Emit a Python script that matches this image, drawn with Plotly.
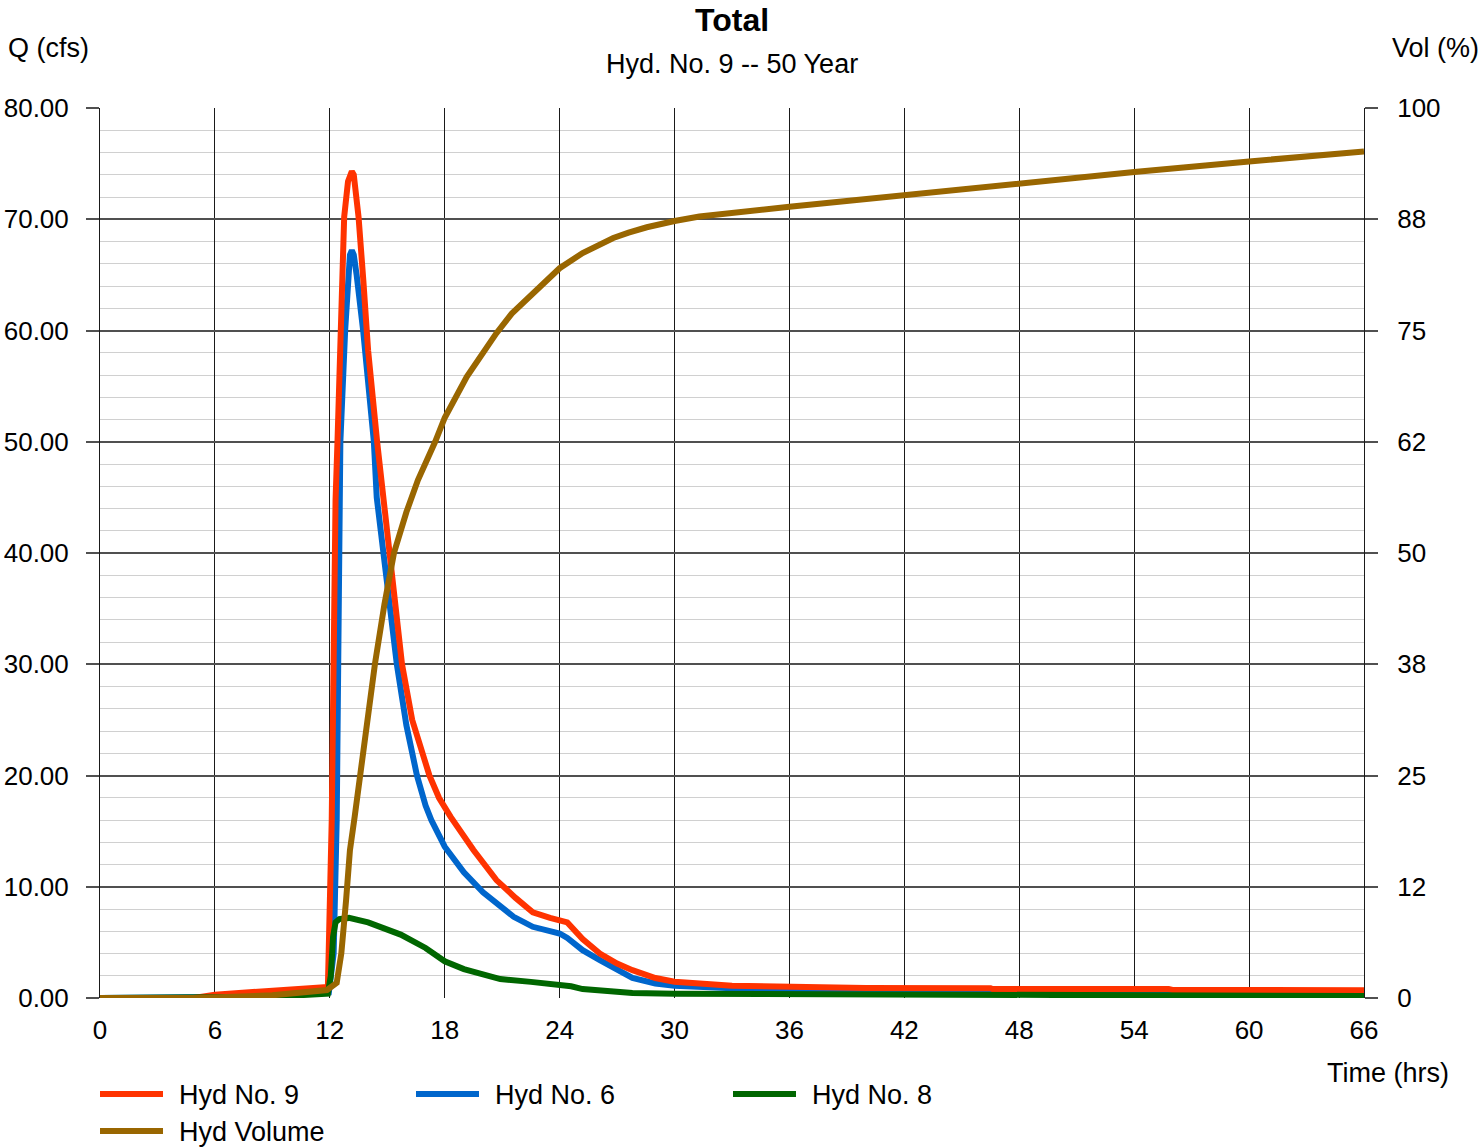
import plotly.graph_objects as go

# ---- data ----
t_hyd9 = [0, 4.9, 6, 9, 11.9, 12.1, 12.2, 12.3, 12.4, 12.53, 12.75, 12.95, 13.05, 13.15, 13.25, 13.5, 13.75,
          14.0, 14.47, 14.8, 15.15, 15.77, 16.3, 16.8, 17.2, 17.7, 18.3, 19.5, 20.7, 21.7, 22.6, 23.5, 24.0,
          24.4, 25.2, 26.1, 27.0, 27.8, 29.0, 30, 33, 36, 40, 46.5, 46.6, 55.8, 56, 66]
q_hyd9 = [0, 0, 0.3, 0.6, 1.0, 16, 32, 44.8, 50, 58.2, 70.2, 73.4, 74.1, 74.3, 74.0, 70.2, 64.5,
          58.2, 50, 44.8, 40, 30, 25, 22, 20, 18, 16.3, 13.3, 10.6, 9.0, 7.7, 7.2, 7.0,
          6.8, 5.3, 4.0, 3.1, 2.5, 1.8, 1.47, 1.1, 0.96, 0.9, 0.87, 0.8, 0.8, 0.72, 0.7]

t_hyd6 = [0, 6, 11.95, 12.2, 12.36, 12.48, 12.55, 12.8, 12.93, 13.05, 13.15, 13.25, 13.4, 13.74, 14.3, 14.45,
          14.8, 15.5, 16.0, 16.55, 17.0, 17.3, 18.0, 19.0, 20.0, 20.7, 21.6, 22.6, 23.5, 24.0,
          24.4, 25.2, 26.1, 27.0, 27.8, 29, 30, 33, 36, 66]
q_hyd6 = [0, 0.1, 0.5, 4, 16, 44.8, 50, 60, 65, 66.8, 67.2, 66.8, 65, 60, 50, 45,
          40, 30, 24.5, 20, 17.3, 16.0, 13.6, 11.3, 9.5, 8.5, 7.3, 6.4, 6.0, 5.8,
          5.4, 4.3, 3.4, 2.5, 1.8, 1.3, 1.1, 0.87, 0.7, 0.55]

t_hyd8 = [0, 6, 9, 11.9, 12.05, 12.17, 12.3, 12.5, 13.0, 14.0, 15.0, 15.7, 17.0, 18.0, 19.0,
          20.0, 20.9, 22.5, 24.0, 24.6, 25.2, 26.1, 27.8, 30, 36, 44, 52.6, 66]
q_hyd8 = [0, 0, 0.1, 0.4, 2, 5.5, 6.8, 7.1, 7.2, 6.8, 6.2, 5.7, 4.5, 3.3, 2.6,
          2.1, 1.7, 1.45, 1.25, 1.05, 0.8, 0.65, 0.45, 0.38, 0.33, 0.25, 0.2, 0.18]

t_vol = [0, 5, 9, 11.85, 12.36, 12.6, 12.85, 13.05, 13.3, 13.57, 14.0, 14.36, 14.85, 15.35, 16.0,
         16.6, 17.5, 18.0, 19.15, 20.0, 20.7, 21.5, 22.45, 23.2, 24.0, 25.2, 26.0, 26.8, 27.6,
         28.55, 30.0, 31.3, 36, 42, 48, 54, 60, 66]
vol_pct = [0, 0, 0.3, 0.9, 1.7, 5, 11, 16.6, 20.4, 25, 31.6, 37.6, 44.2, 50, 54.6,
           58.2, 62.5, 65.2, 69.8, 72.6, 74.7, 76.9, 78.8, 80.5, 82.0, 83.7, 84.6, 85.4, 86.0,
           86.6, 87.3, 87.8, 88.9, 90.2, 91.6, 92.8, 94.0, 95.1]

x_ticks = [0, 6, 12, 18, 24, 30, 36, 42, 48, 54, 60, 66]
vol_tickvals = [0, 12.5, 25, 37.5, 50, 62.5, 75, 87.5, 100]
vol_ticktext = ["0", "12", "25", "38", "50", "62", "75", "88", "100"]

series_names = ["Hyd No. 9", "Hyd No. 6", "Hyd No. 8", "Hyd Volume"]
series_colors = ["#FF3300", "#0066CC", "#006600", "#996600"]

FONT = "Liberation Sans, Arial, sans-serif"
LW = 6

fig = go.Figure()
fig.add_trace(go.Scatter(x=t_hyd6, y=q_hyd6, mode="lines", name=series_names[1],
                         line=dict(color=series_colors[1], width=LW)))
fig.add_trace(go.Scatter(x=t_hyd9, y=q_hyd9, mode="lines", name=series_names[0],
                         line=dict(color=series_colors[0], width=LW)))
fig.add_trace(go.Scatter(x=t_hyd8, y=q_hyd8, mode="lines", name=series_names[2],
                         line=dict(color=series_colors[2], width=LW)))
fig.add_trace(go.Scatter(x=t_vol, y=vol_pct, mode="lines", name=series_names[3], yaxis="y2",
                         line=dict(color=series_colors[3], width=LW)))

fig.update_layout(
    width=1481, height=1147,
    margin=dict(l=100, r=117, t=108, b=149, autoexpand=False),
    paper_bgcolor="white", plot_bgcolor="white",
    showlegend=False,
    font=dict(family=FONT, size=26, color="black"),
    xaxis=dict(range=[0, 66], tickvals=x_ticks, showgrid=True, gridcolor="#1a1a1a", gridwidth=1,
               zeroline=False, showline=False, ticks="", ticklabelstandoff=14,
               tickfont=dict(size=26), automargin=False),
    yaxis=dict(range=[0, 80], dtick=10, tickformat=".2f", showgrid=True, gridcolor="#505050",
               gridwidth=1.5, zeroline=False, showline=True, mirror=True, linecolor="#1a1a1a",
               linewidth=1, ticks="outside", ticklen=13,
               tickcolor="#505050", tickwidth=1.5, ticklabelstandoff=12, automargin=False,
               minor=dict(dtick=2, showgrid=True, gridcolor="#d0d0d0", gridwidth=1.2)),
    yaxis2=dict(range=[0, 100], overlaying="y", side="right", tickvals=vol_tickvals,
                ticktext=vol_ticktext, showgrid=False, zeroline=False, showline=False,
                ticks="outside", ticklen=13, tickcolor="#505050", tickwidth=1.5,
                ticklabelstandoff=14, automargin=False),
)

H = 890.0
W = 1264.0
def py(p):
    return (998 - p) / H
def px(p):
    return (p - 100) / W

ann = [
    dict(text="<b>Total</b>", x=0.5, y=py(20), font=dict(size=32), xanchor="center", yanchor="middle"),
    dict(text="Hyd. No. 9 -- 50 Year", x=0.5, y=py(64), font=dict(size=27), xanchor="center", yanchor="middle"),
    dict(text="Q (cfs)", x=px(6), y=py(48), font=dict(size=27), xanchor="left", yanchor="middle"),
    dict(text="Vol (%)", x=px(1481), y=py(48), font=dict(size=27), xanchor="right", yanchor="middle"),
    dict(text="Time (hrs)", x=px(1451), y=py(1073), font=dict(size=27), xanchor="right", yanchor="middle"),
]
# custom legend (long line samples like the reference)
legend_pos = [(98, 1095), (414, 1095), (731, 1095), (98, 1132)]
shapes = []
for name, color, (lx, ly) in zip(series_names, series_colors, legend_pos):
    shapes.append(dict(type="line", xref="paper", yref="paper", x0=px(lx + 2), x1=px(lx + 65),
                       y0=py(ly - 1), y1=py(ly - 1), line=dict(color=color, width=LW)))
    ann.append(dict(text=name, x=px(lx + 79), y=py(ly), font=dict(size=27),
                    xanchor="left", yanchor="middle"))

for a in ann:
    a.update(xref="paper", yref="paper", showarrow=False)
fig.update_layout(annotations=ann, shapes=shapes)

fig.write_html("out.html", config={"displayModeBar": False},
               post_script="document.body.style.margin='0';document.body.style.overflow='hidden';")
